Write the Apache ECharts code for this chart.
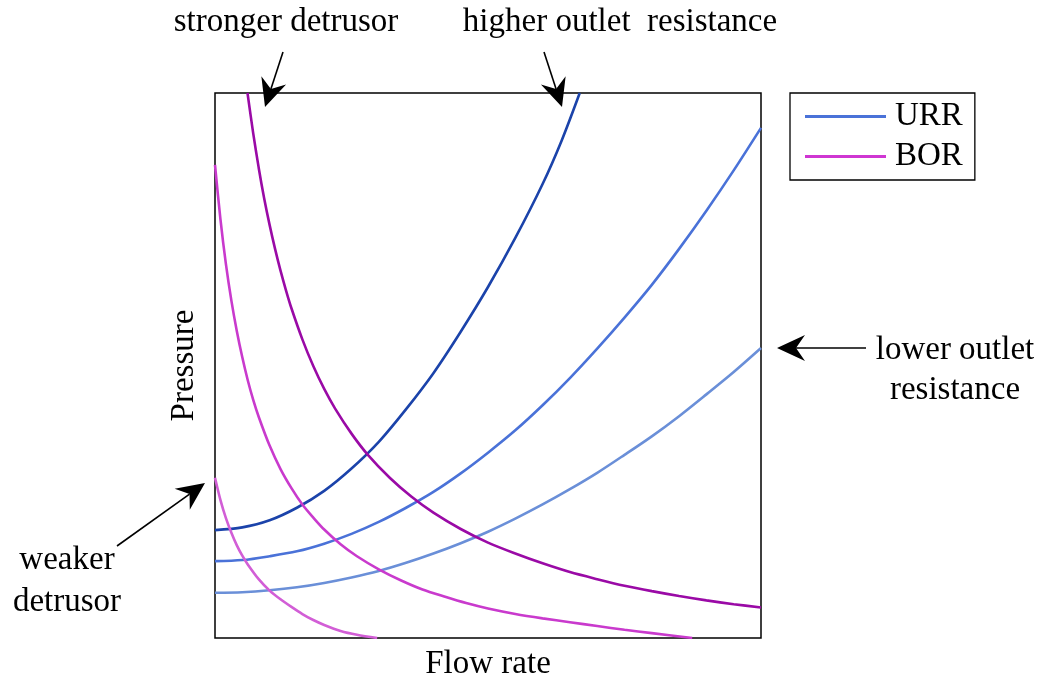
<!DOCTYPE html>
<html>
<head>
<meta charset="utf-8">
<script src="https://cdn.jsdelivr.net/npm/echarts@6/dist/echarts.min.js"></script>
<style>html,body{margin:0;padding:0;background:#fff;}#c{width:1042px;height:681px;}</style>
</head>
<body>
<div id="c"></div>
<script>
// URR curves (urethral resistance relations): [flow, pressure] in 0..100 units
const urrHigh = [[0,19.8],[5,20.3],[10,21.6],[15,23.9],[20,27.0],[25,31.1],[30,36.0],[35,42.0],[40,48.6],[45,56.2],[50,64.4],[55,73.4],[60,83.3],[63.5,91.3],[66.8,100]];
const urrMid  = [[0,14.1],[5,14.3],[10,15.0],[15,15.9],[20,17.3],[25,19.1],[30,21.3],[35,23.9],[40,26.8],[45,30.2],[50,34.0],[55,38.1],[60,42.7],[65,47.7],[70,53.1],[75,58.8],[80,64.8],[85,71.4],[90,78.4],[95,85.8],[100,93.6]];
const urrLow  = [[0,8.3],[5,8.4],[10,8.75],[15,9.3],[20,10.1],[25,11.1],[30,12.3],[35,13.8],[40,15.5],[45,17.4],[50,19.5],[55,21.9],[60,24.5],[65,27.3],[70,30.3],[75,33.6],[80,37.0],[85,40.7],[90,44.7],[95,48.8],[100,53.2]];
// BOR curves (bladder output relations)
const borStrong = [[5.95,100],[7,92.6],[8,86.3],[9,80.7],[10,75.8],[11,71.4],[12,67.4],[13,63.8],[14,60.5],[16,54.8],[18,49.9],[20,45.7],[22,42.1],[25,37.5],[28,33.6],[32,29.4],[36,25.9],[40,23.0],[45,20.0],[50,17.5],[55,15.5],[60,13.7],[65,12.1],[70,10.8],[75,9.6],[80,8.6],[85,7.7],[90,6.9],[95,6.2],[100,5.6]];
const borMid    = [[0,86.8],[1,76.8],[2,68.6],[3,61.9],[4,56.3],[5,51.5],[6,47.3],[7,43.7],[8,40.6],[10,35.3],[12,31.0],[14,27.5],[16,24.5],[18,22.1],[20,19.9],[23,17.2],[26,15.0],[30,12.6],[34,10.6],[38,8.9],[42,7.6],[46,6.4],[50,5.4],[55,4.4],[60,3.6],[65,2.9],[70,2.2],[75,1.5],[80,0.9],[87.4,0]];
const borWeak   = [[0,29.4],[1,25.3],[2,22.0],[3,19.3],[4,17.0],[5,15.1],[6,13.5],[8,10.8],[10,8.7],[12,7.1],[14,5.7],[16,4.4],[18,3.3],[20,2.4],[23,1.3],[26,0.6],[29.7,0]];

const legendNames = ['URR', 'BOR'];
const legendColors = ['#4a72d8', '#cf36d2'];
const xName = 'Flow rate';
const yName = 'Pressure';

const FONT = '"Liberation Serif", "DejaVu Serif", serif';
const FS = 33;

function line(name, data, color) {
  return {
    name: name, type: 'line', data: data, smooth: 0.3,
    showSymbol: false, symbol: 'none', silent: true, clip: true,
    lineStyle: { color: color, width: 2.6 }
  };
}

// arrow annotation (start -> tip) built as graphic elements
function arrow(x1, y1, x2, y2) {
  const dx = x2 - x1, dy = y2 - y1, len = Math.hypot(dx, dy);
  const ux = dx / len, uy = dy / len, px = -uy, py = ux;
  const L = 28, W = 13, N = 9;
  const bx = x2 - ux * L, by = y2 - uy * L;
  const nx = x2 - ux * (L - N), ny = y2 - uy * (L - N);
  return [
    { type: 'line', shape: { x1: x1, y1: y1, x2: nx, y2: ny }, style: { stroke: '#000', lineWidth: 1.6 } },
    { type: 'polygon', shape: { points: [[x2, y2], [bx + px * W, by + py * W], [nx, ny], [bx - px * W, by - py * W]] }, style: { fill: '#000' } }
  ];
}

function label(text, x, y) {
  return { type: 'text', x: x, y: y, style: { text: text, font: FS + 'px ' + FONT, fill: '#000', align: 'center', verticalAlign: 'middle' } };
}

const chart = echarts.init(document.getElementById('c'), null, { renderer: 'canvas' });
chart.setOption({
  animation: false,
  backgroundColor: '#fff',
  grid: { left: 215, top: 93, width: 546, height: 545, outerBoundsMode: 'none', containLabel: false,
          show: true, borderColor: '#000', borderWidth: 1.5, backgroundColor: 'transparent' },
  xAxis: {
    type: 'value', min: 0, max: 100, name: xName, nameLocation: 'middle', nameGap: 10,
    nameTextStyle: { fontFamily: FONT, fontSize: FS, color: '#000' },
    axisLine: { show: false }, axisTick: { show: false }, axisLabel: { show: false }, splitLine: { show: false }
  },
  yAxis: {
    type: 'value', min: 0, max: 100, name: yName, nameLocation: 'middle', nameGap: 14,
    nameTextStyle: { fontFamily: FONT, fontSize: FS, color: '#000' },
    axisLine: { show: false }, axisTick: { show: false }, axisLabel: { show: false }, splitLine: { show: false }
  },
  legend: {
    left: 790, top: 93, orient: 'vertical', selectedMode: false,
    backgroundColor: '#fff', borderColor: '#000', borderWidth: 1.3,
    padding: [7, 12, 7, 15], itemGap: 7,
    icon: 'rect', itemWidth: 81, itemHeight: 3,
    textStyle: { fontFamily: FONT, fontSize: FS, color: '#000', padding: [0, 0, 0, 4] },
    data: legendNames.map((n, i) => ({ name: n, itemStyle: { color: legendColors[i] } }))
  },
  series: [
    line('URR', urrHigh, '#1b43aa'),
    line('URR', urrMid, '#4a72d8'),
    line('URR', urrLow, '#6a8fd8'),
    line('BOR', borStrong, '#9a0aa6'),
    line('BOR', borMid, '#c93acd'),
    line('BOR', borWeak, '#d25ed6')
  ],
  graphic: [].concat(
    arrow(283, 52, 265, 107),
    arrow(544, 52, 562, 107),
    arrow(866, 348, 777, 348),
    arrow(117, 546, 205, 483),
    [
      label('stronger detrusor', 286, 22),
      label('higher outlet  resistance', 620, 22),
      label('lower outlet', 955, 350),
      label('resistance', 955, 390),
      label('weaker', 67, 560),
      label('detrusor', 67, 602)
    ]
  )
});
</script>
</body>
</html>
